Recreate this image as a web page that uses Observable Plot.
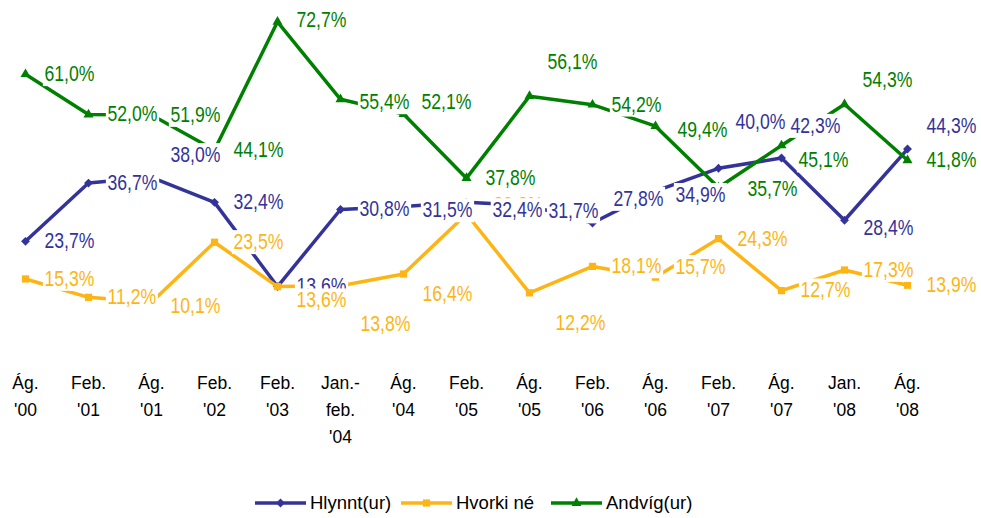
<!DOCTYPE html>
<html>
<head>
<meta charset="utf-8">
<script src="https://cdn.jsdelivr.net/npm/d3@7"></script>
<script src="https://cdn.jsdelivr.net/npm/@observablehq/plot@0.6"></script>
<style>
  body { margin: 0; background: #fff; }
  #chart { position: relative; width: 981px; height: 518px; overflow: hidden; }
  .legend-item { position: absolute; top: 492px; height: 22px; display: flex; align-items: center;
    font: 18.5px "Liberation Sans", Arial, sans-serif; color: #000; white-space: nowrap; }
  .legend-item svg { margin-right: 4px; }
</style>
</head>
<body>
<div id="chart"></div>
<script>
// ---- data ----
const categories = ["Ág.\n'00", "Feb.\n'01", "Ág.\n'01", "Feb.\n'02", "Feb.\n'03", "Jan.-\nfeb.\n'04",
  "Ág.\n'04", "Feb.\n'05", "Ág.\n'05", "Feb.\n'06", "Ág.\n'06", "Feb.\n'07", "Ág.\n'07", "Jan.\n'08", "Ág.\n'08"];
const seriesNames = ["Hlynnt(ur)", "Hvorki né", "Andvíg(ur)"];
const hlynnt = [23.7, 36.7, 38.0, 32.4, 13.6, 30.8, 31.5, 32.4, 31.7, 27.8, 34.9, 40.0, 42.3, 28.4, 44.3];
const hvorki = [15.3, 11.2, 10.1, 23.5, 13.6, 13.8, 16.4, 29.8, 12.2, 18.1, 15.7, 24.3, 12.7, 17.3, 13.9];
const andvig = [61.0, 52.0, 51.9, 44.1, 72.7, 55.4, 52.1, 37.8, 56.1, 54.2, 49.4, 35.7, 45.1, 54.3, 41.8];

// ---- label nudges (dx, dy in px), as placed in the original ----
const hlynntNudge = [[19,0],[19,0],[19,-22],[19,0],[19,0],[19,0],[19,4],[26,8],[19,6],[21,-24],[20,4],[17,-46],[9,-32],[19,8],[19,-23]];
const hvorkiNudge = [[19,0],[19,0],[19,4],[19,0],[19,14],[20,38],[19,20],[27,-9],[26,30],[19,0],[20,-10],[19,0],[19,0],[19,0],[19,0]];
const andvigNudge = [[19,0],[19,0],[19,0],[19,0],[19,-2],[19,3],[18,-12],[19,0],[18,-34],[19,0],[22,4],[29,2],[17,15],[18,-24],[19,0]];

// ---- styles ----
const colors = ["#333399", "#FDB515", "#008000"];
const symbols = ["diamond2", "square2", "triangle2"];
const d3Symbols = [d3.symbolDiamond2, d3.symbolSquare2, d3.symbolTriangle2];
const dotR = [4, 4.6, 4.8];
const labelFont = '"Liberation Sans", Arial, sans-serif';
const labelNarrow = 0.82; // the original labels use a narrow face
const axisFont = '"Liberation Sans", Arial, sans-serif';

const fmt = v => d3.format(".1f")(v).replace(".", ",") + "%";
const seriesValues = [hlynnt, hvorki, andvig];
const nudges = [hlynntNudge, hvorkiNudge, andvigNudge];
const rows = seriesValues.map((vals, s) =>
  categories.map((cat, i) => ({series: seriesNames[s], cat, value: vals[i]})));

const marks = [];
rows.forEach((r, s) => {
  marks.push(Plot.line(r, {x: "cat", y: "value", stroke: colors[s], strokeWidth: 3.5}));
  marks.push(Plot.dot(r, {x: "cat", y: "value", symbol: symbols[s], fill: colors[s], r: dotR[s], stroke: "none"}));
});
const labelMark = (s, i) => Plot.text([rows[s][i]], {
  x: "cat", y: "value", text: d => fmt(d.value),
  dx: nudges[s][i][0], dy: nudges[s][i][1],
  textAnchor: "start", lineAnchor: "middle",
  fill: colors[s], fontSize: 21.5, fontFamily: labelFont
});
rows.forEach((r, s) => r.forEach((d, i) => marks.push(labelMark(s, i))));
// the blue label of Feb. '05 sits above the hidden yellow one
marks.push(labelMark(0, 7));

marks.push(Plot.axisX({
  tickSize: 0, tickPadding: 22, fontSize: 17.5, lineHeight: 1.54,
  fontFamily: axisFont, fill: "#000", label: null
}));

const plot = Plot.plot({
  width: 981, height: 480,
  marginLeft: 23, marginRight: 73, marginTop: 11, marginBottom: 133,
  x: {type: "point", domain: categories, padding: 0, label: null},
  y: {domain: [0, 75], axis: null},
  style: {background: "#fff", overflow: "visible"},
  marks
});
const chart = document.getElementById("chart");
chart.appendChild(plot);

// narrow the data labels and put white boxes behind them (as in the original)
const ns = "http://www.w3.org/2000/svg";
plot.querySelectorAll('g[aria-label="text"] text').forEach(t => {
  const b = t.getBBox();
  const own = t.getAttribute("transform");
  const c = t.transform && t.transform.baseVal.consolidate();
  const m = c ? c.matrix : null;
  const px = m ? m.a * b.x + m.c * b.y + m.e : b.x;
  const g = document.createElementNS(ns, "g");
  g.setAttribute("transform", `translate(${px},0) scale(${labelNarrow},1) translate(${-px},0)`);
  const rect = document.createElementNS(ns, "rect");
  rect.setAttribute("x", b.x - 2);
  rect.setAttribute("y", b.y);
  rect.setAttribute("width", b.width + 4);
  rect.setAttribute("height", b.height);
  rect.setAttribute("fill", "#fff");
  rect.setAttribute("stroke", "none");
  if (own) rect.setAttribute("transform", own);
  t.parentNode.insertBefore(g, t);
  g.appendChild(rect);
  g.appendChild(t);
});

// legend
const legendLeft = [255, 401, 551];
seriesNames.forEach((name, s) => {
  const item = document.createElement("div");
  item.className = "legend-item";
  item.style.left = legendLeft[s] + "px";
  const sw = document.createElementNS(ns, "svg");
  sw.setAttribute("width", 51); sw.setAttribute("height", 20);
  const ln = document.createElementNS(ns, "line");
  ln.setAttribute("x1", 0); ln.setAttribute("x2", 51); ln.setAttribute("y1", 10); ln.setAttribute("y2", 10);
  ln.setAttribute("stroke", colors[s]); ln.setAttribute("stroke-width", 3.5);
  sw.appendChild(ln);
  const p = document.createElementNS(ns, "path");
  p.setAttribute("d", d3.symbol(d3Symbols[s], Math.PI * dotR[s] * dotR[s])());
  p.setAttribute("transform", "translate(25.5,10)"); p.setAttribute("fill", colors[s]);
  sw.appendChild(p);
  item.appendChild(sw);
  const span = document.createElement("span");
  span.textContent = name;
  item.appendChild(span);
  chart.appendChild(item);
});
</script>
</body>
</html>
